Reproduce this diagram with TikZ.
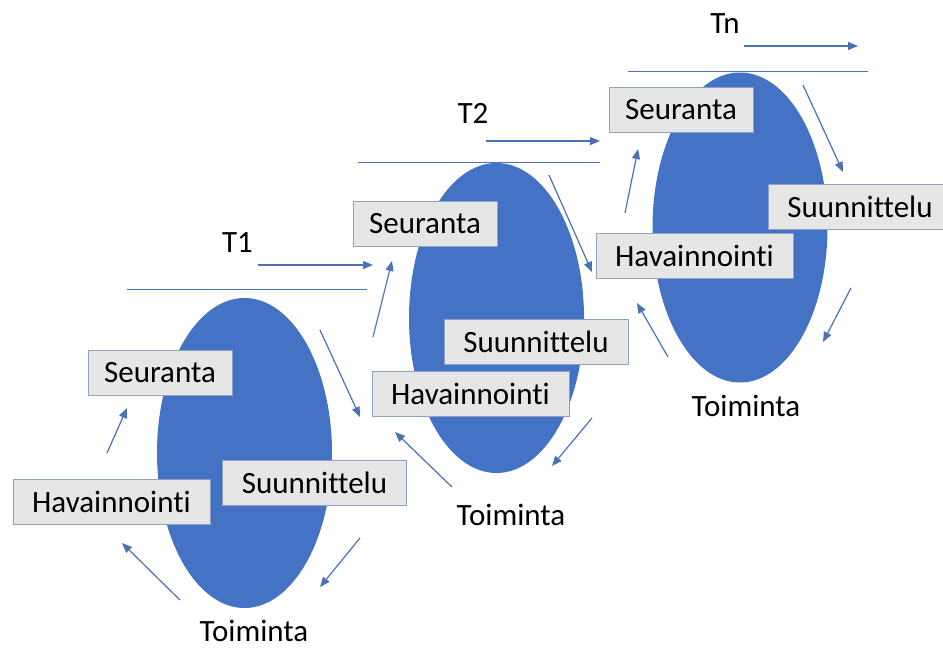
\documentclass[tikz,border=0pt]{standalone}
\usepackage{fontspec}
\setmainfont{Carlito}[Ligatures={NoCommon}]
\usetikzlibrary{arrows.meta,shapes.geometric}
\definecolor{ovalblue}{HTML}{4472C4}
\definecolor{boxfill}{HTML}{E7E6E6}
\definecolor{boxline}{HTML}{8FA2BF}
\definecolor{flowblue}{HTML}{4A72B8}

\begin{document}
\begin{tikzpicture}[x=1pt,y=-1pt,
  oval/.style={ellipse, fill=ovalblue, draw=none, inner sep=0pt,
    minimum width=175pt, minimum height=310pt},
  phase/.style={draw=boxline, fill=boxfill, line width=1pt, inner sep=0pt,
    minimum height=45pt, font=\fontsize{31}{36}\selectfont},
  wseur/.style={minimum width=144pt},
  whav/.style={minimum width=197pt},
  wsuun/.style={minimum width=184pt},
  caption/.style={inner sep=0pt, font=\fontsize{31}{36}\selectfont},
  flow/.style={draw=flowblue, line width=1.2pt, -{Triangle[length=10pt,width=8pt]}},
  rule/.style={draw=flowblue, line width=1pt}
]
\useasboundingbox (0,0) rectangle (943,648);

% cycle ovals
\node[oval] (o1) at (244.5,453) {};
\node[oval] (o2) at (496.5,318) {};
\node[oval] (o3) at (740,227.5) {};

% time rules above each cycle
\coordinate (r1a) at (127,289);  \coordinate (r1b) at (367,289);
\coordinate (r2a) at (358,162);  \coordinate (r2b) at (600,162);
\coordinate (r3a) at (628,71);   \coordinate (r3b) at (868,71);
\draw[rule] (r1a) -- (r1b);
\draw[rule] (r2a) -- (r2b);
\draw[rule] (r3a) -- (r3b);

% time labels and arrows
\node[caption] (t1) at (237.5,243) {T1};
\node[caption] (t2) at (473,113.5) {T2};
\node[caption] (tn) at (725,23.5) {Tn};
\coordinate (t1a) at (258,265);  \coordinate (t1b) at (373,265);
\coordinate (t2a) at (486,141);  \coordinate (t2b) at (600,141);
\coordinate (tna) at (744,46);   \coordinate (tnb) at (858,46);
\draw[flow] (t1a) -- (t1b);
\draw[flow] (t2a) -- (t2b);
\draw[flow] (tna) -- (tnb);

% first cycle
\node[phase,wseur] (s1) at (160,372.5) {Seuranta};
\node[phase,whav]  (h1) at (111.5,501.5) {Havainnointi};
\node[phase,wsuun] (u1) at (314.5,483) {Suunnittelu};
\node[caption]     (k1) at (254,631) {Toiminta};

% second cycle
\node[phase,wseur] (s2) at (425,223.5) {Seuranta};
\node[phase,wsuun] (u2) at (536,342) {Suunnittelu};
\node[phase,whav]  (h2) at (470.5,394) {Havainnointi};
\node[caption]     (k2) at (511,515) {Toiminta};

% third cycle
\node[phase,wseur] (s3) at (681,109.5) {Seuranta};
\node[phase,wsuun] (u3) at (860,207) {Suunnittelu};
\node[phase,whav]  (h3) at (694.5,255.5) {Havainnointi};
\node[caption]     (k3) at (746,406) {Toiminta};

% flow arrows, first cycle
\coordinate (a1a) at (107,453); \coordinate (a1b) at (127,408);
\coordinate (b1a) at (320,330); \coordinate (b1b) at (360,417);
\coordinate (c1a) at (360,538); \coordinate (c1b) at (320,587);
\coordinate (d1a) at (180,600); \coordinate (d1b) at (122,543);
\draw[flow] (a1a) -- (a1b);
\draw[flow] (b1a) -- (b1b);
\draw[flow] (c1a) -- (c1b);
\draw[flow] (d1a) -- (d1b);

% flow arrows, second cycle
\coordinate (a2a) at (373,337); \coordinate (a2b) at (392,261);
\coordinate (b2a) at (549,175); \coordinate (b2b) at (592,272);
\coordinate (c2a) at (592,418); \coordinate (c2b) at (552,466);
\coordinate (d2a) at (452,487); \coordinate (d2b) at (395,432);
\draw[flow] (a2a) -- (a2b);
\draw[flow] (b2a) -- (b2b);
\draw[flow] (c2a) -- (c2b);
\draw[flow] (d2a) -- (d2b);

% flow arrows, third cycle
\coordinate (a3a) at (625,213); \coordinate (a3b) at (638,149);
\coordinate (b3a) at (803,85);  \coordinate (b3b) at (843,172);
\coordinate (c3a) at (851,288); \coordinate (c3b) at (823,342);
\coordinate (d3a) at (668,357); \coordinate (d3b) at (637,303);
\draw[flow] (a3a) -- (a3b);
\draw[flow] (b3a) -- (b3b);
\draw[flow] (c3a) -- (c3b);
\draw[flow] (d3a) -- (d3b);
\end{tikzpicture}
\end{document}
